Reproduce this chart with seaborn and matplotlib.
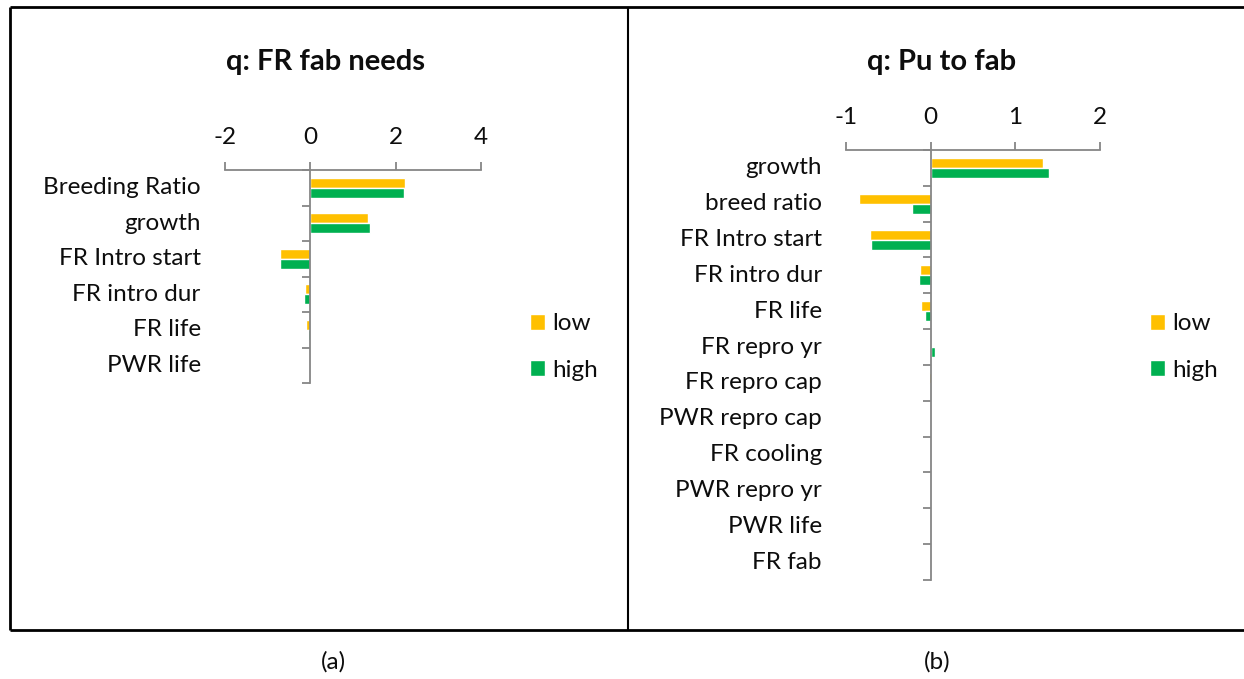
import numpy as np
import pandas as pd
import matplotlib
matplotlib.use("Agg")
import matplotlib.pyplot as plt
import seaborn as sns
from matplotlib.lines import Line2D
from matplotlib.transforms import blended_transform_factory

# ---- data -------------------------------------------------------------
cats_a = ["Breeding Ratio", "growth", "FR Intro start", "FR intro dur",
          "FR life", "PWR life"]
low_a = [2.22, 1.34, -0.70, -0.12, -0.11, 0.0]
high_a = [2.20, 1.41, -0.70, -0.15, -0.06, 0.0]
ticks_a = [-2, 0, 2, 4]

cats_b = ["growth", "breed ratio", "FR Intro start", "FR intro dur", "FR life",
          "FR repro yr", "FR repro cap", "PWR repro cap", "FR cooling",
          "PWR repro yr", "PWR life", "FR fab"]
low_b = [1.33, -0.85, -0.72, -0.13, -0.11, 0.0, -0.02, 0.0, 0.0, 0.0, 0.0, 0.0]
high_b = [1.40, -0.22, -0.70, -0.14, -0.07, 0.05, 0.0, 0.0, 0.0, 0.0, 0.0, 0.0]
ticks_b = [-1, 0, 1, 2]

cases = ["low", "high"]
colors = {"low": "#FFC000", "high": "#00B050"}
AXIS_GREY = "#868686"
TXT = "#0d0d0d"
FS = 17.5

# ---- figure -----------------------------------------------------------
sns.set_theme(style="white")
plt.rcParams["font.family"] = ["Lato", "DejaVu Sans"]

W, H = 1244, 679
fig = plt.figure(figsize=(W / 100, H / 100), dpi=100)


def px_axes(x0, y0, x1, y1):
    return fig.add_axes([x0 / W, 1 - y1 / H, (x1 - x0) / W, (y1 - y0) / H])


def panel(ax, cats, low, high, ticks, title, title_x, leg_x):
    n = len(cats)
    df = pd.DataFrame({
        "factor": cats * 2,
        "value": low + high,
        "case": ["low"] * n + ["high"] * n,
    })
    sns.barplot(data=df, x="value", y="factor", hue="case", order=cats,
                hue_order=cases, palette=colors, orient="h", width=0.56,
                gap=0, saturation=1, errorbar=None, ax=ax)
    ax.set_xlim(ticks[0], ticks[-1])
    ax.set_ylim(n - 0.5, -0.5)
    ax.set_xlabel("")
    ax.set_ylabel("")

    for side in ("right", "bottom"):
        ax.spines[side].set_visible(False)
    for side in ("top", "left"):
        ax.spines[side].set_color(AXIS_GREY)
        ax.spines[side].set_linewidth(1.3)
    ax.spines["left"].set_position(("data", 0))

    ax.xaxis.tick_top()
    ax.set_xticks(ticks)
    ax.set_xticklabels([str(t) for t in ticks])
    ax.tick_params(axis="x", direction="out", length=6, width=1.3,
                   color=AXIS_GREY, pad=10, labelsize=FS, labelcolor=TXT)

    ax.set_yticks(np.arange(-0.5, n, 1.0))
    ax.set_yticklabels([])
    ax.tick_params(axis="y", direction="out", length=6, width=1.3,
                   color=AXIS_GREY, left=True)

    trans = blended_transform_factory(ax.transAxes, ax.transData)
    for i, c in enumerate(cats):
        ax.text(-0.095, i, c, transform=trans, ha="right", va="center",
                fontsize=FS, color=TXT)

    fig.text(title_x / W, 1 - 62 / H, title, ha="center", va="center",
             fontsize=21, fontweight="bold", color=TXT)

    handles, labels = ax.get_legend_handles_labels()
    ax.legend(handles, labels, loc="center left",
              bbox_to_anchor=(leg_x / W, 1 - 347 / H),
              bbox_transform=fig.transFigure, frameon=False, fontsize=FS,
              handlelength=0.62, handleheight=0.62, handletextpad=0.3,
              labelspacing=1.05, borderpad=0, borderaxespad=0,
              labelcolor=TXT)


ax_a = px_axes(225, 170, 481, 383)
panel(ax_a, cats_a, low_a, high_a, ticks_a, "q: FR fab needs", 325, 530)

ax_b = px_axes(846, 150, 1100, 580)
panel(ax_b, cats_b, low_b, high_b, ticks_b, "q: Pu to fab", 942, 1150)


# frame around the two panels
def fig_line(xs, ys, lw=2.0):
    fig.add_artist(Line2D([x / W for x in xs], [1 - y / H for y in ys],
                          color="black", linewidth=lw,
                          transform=fig.transFigure, solid_capstyle="butt"))


fig_line([10, W], [7, 7])
fig_line([10, W], [630, 630])
fig_line([10, 10], [7, 630])
fig_line([628, 628], [7, 630], lw=1.5)

fig.text(333 / W, 1 - 662 / H, "(a)", ha="center", va="center",
         fontsize=FS, color=TXT)
fig.text(937 / W, 1 - 662 / H, "(b)", ha="center", va="center",
         fontsize=FS, color=TXT)

fig.savefig("out.png", dpi=100, facecolor="white")
